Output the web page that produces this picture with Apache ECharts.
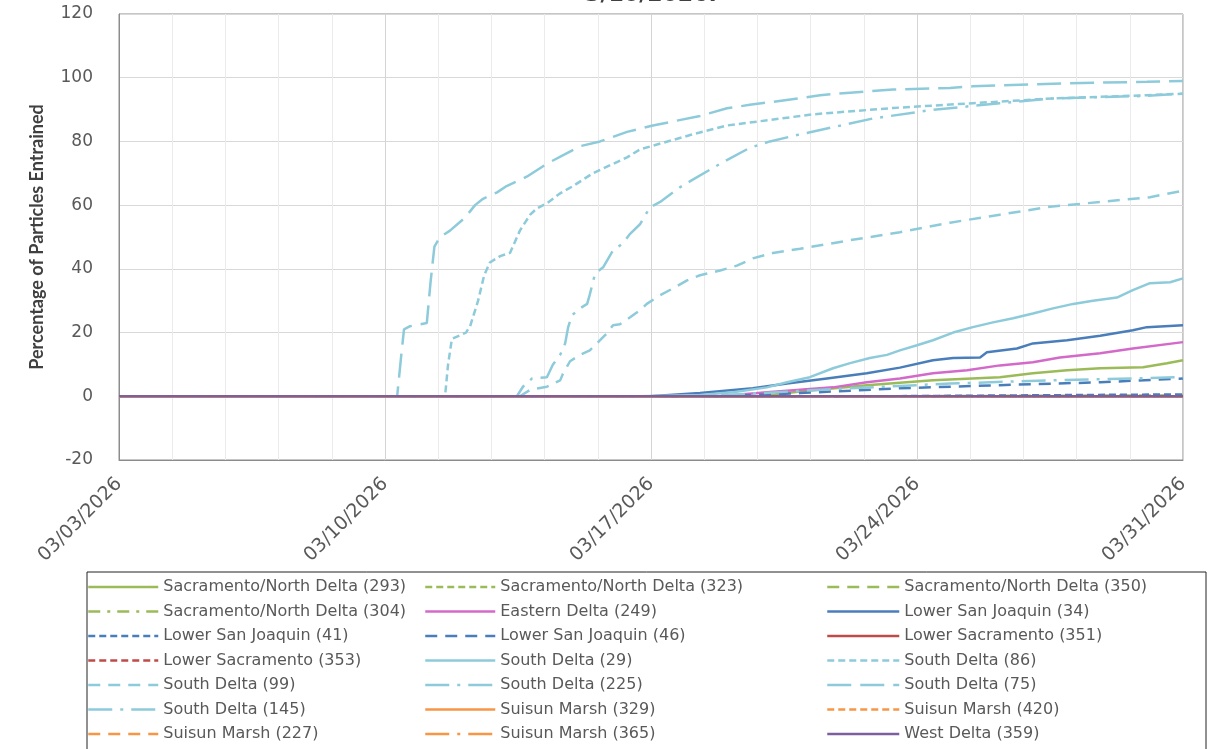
<!DOCTYPE html>
<html>
<head>
<meta charset="utf-8">
<script src="https://cdn.jsdelivr.net/npm/echarts@6/dist/echarts.min.js"></script>
<style>
  html, body { margin: 0; padding: 0; background: #ffffff; }
  #chart { width: 1209px; height: 749px; }
</style>
</head>
<body>
<div id="chart"></div>
<script>
// Days are counted from 03/03/2026; values are percentage of particles entrained.
const xTickLabels = ['03/03/2026', '03/10/2026', '03/17/2026', '03/24/2026', '03/31/2026'];
const yMin = -20, yMax = 120, yStep = 20;

const sacNorth293 = [[0,0],[16.87,0],[17.92,1.5],[19.68,3.5],[21.42,5],[23.18,6],[24.05,7.2],[24.95,8.2],[25.82,8.8],[26.95,9.1],[27.58,10.4],[28,11.3]];
const sacNorth323 = [[0,0],[28,0]];
const sacNorth350 = [[0,0],[20,0],[28,0.3]];
const sacNorth304 = [[0,0],[28,0]];
const eastern249 = [[0,0],[15.82,0],[17.05,1.3],[18.79,2.8],[19.68,4.4],[20.55,5.6],[21.42,7.2],[22.32,8.2],[23.18,9.7],[24.05,10.7],[24.76,12.2],[25.82,13.5],[26.68,15],[28,17]];
const lowerSJ34 = [[0,0],[13.97,0],[15.29,1],[16.68,2.5],[17.58,4],[18.63,5.6],[19.68,7.2],[20.55,9],[21.42,11.3],[21.95,12],[22.66,12.2],[22.84,13.8],[23.63,15],[24.05,16.6],[24.95,17.6],[25.82,19],[26.68,20.7],[27.05,21.7],[28,22.3]];
const lowerSJ41 = [[0,0],[20,0],[28,0.6]];
const lowerSJ46 = [[0,0],[15.82,0],[17.92,1],[20.55,2.5],[23.18,3.5],[25.82,4.4],[28,5.6]];
const lowerSac351 = [[0,0],[28,0]];
const lowerSac353 = [[0,0],[28,0]];
const southDelta29 = [[0,0],[13.71,0],[15.29,0.4],[16.16,1.3],[17.05,2.8],[17.58,4.4],[18.18,6],[18.79,8.8],[19.24,10.4],[19.76,12],[20.21,13],[20.55,14.4],[21,16],[21.42,17.6],[21.95,20],[22.47,21.7],[23,23.2],[23.53,24.5],[24.05,26],[24.58,27.6],[25.11,29],[25.63,30],[26.26,31],[26.68,33.3],[27.13,35.5],[27.66,35.8],[28,37]];
const southDelta86 = [[0,0],[8.58,0],[8.66,10],[8.76,18],[9.13,20],[9.24,22],[9.45,30],[9.61,38],[9.76,42],[10.03,44],[10.29,45],[10.55,52],[10.82,57],[11,59],[11.26,60.6],[11.61,63.7],[11.95,66],[12.47,70],[13.37,75],[13.71,77.5],[15.03,82],[16,85],[18.26,88.5],[20.37,90.5],[22.47,92],[24.58,93.5],[27.05,94.5],[28,95]];
const southDelta99 = [[0,0],[10.55,0],[10.82,2],[11.26,3],[11.61,5],[11.68,7],[11.87,11],[12.13,13],[12.39,14.4],[12.66,17.6],[12.84,19.8],[13,22.3],[13.18,22.6],[13.45,24.8],[13.71,27],[13.89,29],[14.24,31.7],[14.58,33.9],[14.95,36.4],[15.29,38],[15.82,39.5],[16.26,41],[16.68,43.3],[17.21,45],[17.92,46.3],[19.24,49],[20.55,51.5],[21.87,54.5],[23.18,57],[24.5,59.5],[25.82,61],[27.13,62.5],[28,64.5]];
const southDelta225 = [[0,0],[10.47,0],[10.63,3],[10.87,5.6],[11.26,6],[11.42,10],[11.61,13],[11.74,16.6],[11.82,21.7],[11.92,25.4],[12.13,27.6],[12.32,29],[12.39,32],[12.53,38.6],[12.74,40.5],[13,45.8],[13.26,48],[13.45,51],[13.71,54],[13.97,59.3],[14.24,61],[14.76,65.6],[15.1,68],[15.82,73],[16.6,78],[17.13,80],[17.84,82],[19.84,87.2],[21.34,89.8],[23.18,92],[24.58,93.5],[27.05,94.3],[28,95]];
const southDelta75 = [[0,0],[7.32,0],[7.42,12],[7.5,21],[7.66,22],[8.1,23],[8.2,36],[8.3,47],[8.45,50],[8.71,52],[9.1,56],[9.37,60],[9.58,62],[9.95,64],[10.2,66],[10.74,69],[11.26,73],[11.74,76],[12.13,78.5],[12.66,80],[13.37,83],[14.05,85],[15.29,88],[16,90.4],[16.6,91.5],[17.9,93.5],[18.45,94.5],[19.24,95.3],[20.37,96.3],[21.87,96.8],[22.47,97.3],[23.18,97.6],[24.58,98.1],[25.82,98.5],[27.05,98.7],[28,99]];
const southDelta145 = [[0,0],[15.29,0],[16.87,1],[19.24,2.5],[21.87,4],[24.5,5],[28,6]];
const suisun329 = [[0,0],[28,0]];
const suisun420 = [[0,0],[28,0]];
const suisun227 = [[0,0],[28,0]];
const suisun365 = [[0,0],[28,0]];
const westDelta359 = [[0,0],[28,0]];

// Line colours per region
const C = {
  sac: '#9BBB59', east: '#D36AC9', lsj: '#4A7EBB', lsac: '#BE4B48',
  south: '#8DCBDB', suisun: '#F79646', west: '#7D5FA0'
};
// Dash patterns
const D = {
  solid: 'solid', sysDash: [7, 4], dash: [12, 8], lgDash: [24, 9],
  dashDot: [12, 7, 3, 7], lgDashDot: [24, 8, 3, 8]
};

const seriesDefs = [
  ['Sacramento/North Delta (293)', sacNorth293, C.sac, D.solid],
  ['Sacramento/North Delta (323)', sacNorth323, C.sac, D.sysDash],
  ['Sacramento/North Delta (350)', sacNorth350, C.sac, D.dash],
  ['Sacramento/North Delta (304)', sacNorth304, C.sac, D.dashDot],
  ['Eastern Delta (249)', eastern249, C.east, D.solid],
  ['Lower San Joaquin (34)', lowerSJ34, C.lsj, D.solid],
  ['Lower San Joaquin (41)', lowerSJ41, C.lsj, D.sysDash],
  ['Lower San Joaquin (46)', lowerSJ46, C.lsj, D.dash],
  ['Lower Sacramento (351)', lowerSac351, C.lsac, D.solid],
  ['Lower Sacramento (353)', lowerSac353, C.lsac, D.sysDash],
  ['South Delta (29)', southDelta29, C.south, D.solid],
  ['South Delta (86)', southDelta86, C.south, D.sysDash],
  ['South Delta (99)', southDelta99, C.south, D.dash],
  ['South Delta (225)', southDelta225, C.south, D.lgDashDot],
  ['South Delta (75)', southDelta75, C.south, D.lgDash],
  ['South Delta (145)', southDelta145, C.south, D.lgDashDot],
  ['Suisun Marsh (329)', suisun329, C.suisun, D.solid],
  ['Suisun Marsh (420)', suisun420, C.suisun, D.sysDash],
  ['Suisun Marsh (227)', suisun227, C.suisun, D.dash],
  ['Suisun Marsh (365)', suisun365, C.suisun, D.lgDashDot],
  ['West Delta (359)', westDelta359, C.west, D.solid]
];

const legendCol1 = ['Sacramento/North Delta (293)', 'Sacramento/North Delta (304)', 'Lower San Joaquin (41)', 'Lower Sacramento (353)', 'South Delta (99)', 'South Delta (145)', 'Suisun Marsh (227)'];
const legendCol2 = ['Sacramento/North Delta (323)', 'Eastern Delta (249)', 'Lower San Joaquin (46)', 'South Delta (29)', 'South Delta (225)', 'Suisun Marsh (329)', 'Suisun Marsh (365)'];
const legendCol3 = ['Sacramento/North Delta (350)', 'Lower San Joaquin (34)', 'Lower Sacramento (351)', 'South Delta (86)', 'South Delta (75)', 'Suisun Marsh (420)', 'West Delta (359)'];

const labelColor = '#595959';
const baseFont = 'DejaVu Sans';

function legendColumn(names, left, itemWidth) {
  return {
    orient: 'vertical', left: left, top: 578, padding: 0,
    itemWidth: itemWidth, itemHeight: 14, itemGap: 6.5,
    selectedMode: false, data: names,
    itemStyle: { opacity: 0 },
    lineStyle: { width: 2.5 },
    textStyle: { fontFamily: baseFont, fontSize: 16, color: labelColor, lineHeight: 18 }
  };
}

const chart = echarts.init(document.getElementById('chart'), null, { renderer: 'canvas' });

chart.setOption({
  animation: false,
  backgroundColor: '#ffffff',
  grid: {
    left: 119, right: 26, top: 14, bottom: 289,
    show: true, borderColor: '#8c8c8c', borderWidth: 1,
    containLabel: false, outerBoundsMode: 'none'
  },
  xAxis: {
    type: 'value', min: 0, max: 28, interval: 7,
    axisLine: { show: true, onZero: false, lineStyle: { color: '#8c8c8c' } },
    axisTick: { show: false },
    minorTick: { show: false, splitNumber: 5 },
    splitLine: { show: true, lineStyle: { color: '#d4d4d4', width: 1 } },
    minorSplitLine: { show: true, lineStyle: { color: '#ebebeb', width: 1 } },
    axisLabel: {
      rotate: 45, margin: 21, fontFamily: baseFont, fontSize: 19, color: labelColor,
      formatter: function (v) {
        const i = Math.round(v / 7);
        return Math.abs(v - i * 7) < 1e-6 ? (xTickLabels[i] || '') : '';
      }
    }
  },
  yAxis: {
    type: 'value', min: yMin, max: yMax, interval: yStep,
    name: 'Percentage of Particles Entrained',
    nameLocation: 'middle', nameGap: 73,
    nameTextStyle: { fontFamily: 'Lato', fontWeight: 'bold', fontSize: 18, color: '#404040' },
    axisLine: { show: true, lineStyle: { color: '#8c8c8c' } },
    axisTick: { show: false },
    splitLine: { show: true, lineStyle: { color: '#d9d9d9', width: 1 } },
    axisLabel: { margin: 26, fontFamily: baseFont, fontSize: 17, color: labelColor }
  },
  legend: [
    legendColumn(legendCol1, 87, 70),
    legendColumn(legendCol2, 424, 70),
    legendColumn(legendCol3, 826, 72)
  ],
  graphic: [
    {
      type: 'rect', silent: true, z: -1,
      shape: { x: 87, y: 572, width: 1119, height: 200 },
      style: { fill: 'none', stroke: '#222222', lineWidth: 1 }
    },
    {
      type: 'text', silent: true, x: 651, y: -5,
      style: {
        text: '3/10/2026.', fontFamily: baseFont, fontWeight: 'bold', fontSize: 22,
        fill: '#404040', align: 'center', verticalAlign: 'middle'
      }
    }
  ],
  series: seriesDefs.map(function (s) {
    return {
      type: 'line', name: s[0], data: s[1],
      symbol: 'none', showSymbol: false, silent: true,
      itemStyle: { color: s[2] },
      lineStyle: { color: s[2], width: 2.5, type: s[3] }
    };
  })
});
</script>
</body>
</html>
